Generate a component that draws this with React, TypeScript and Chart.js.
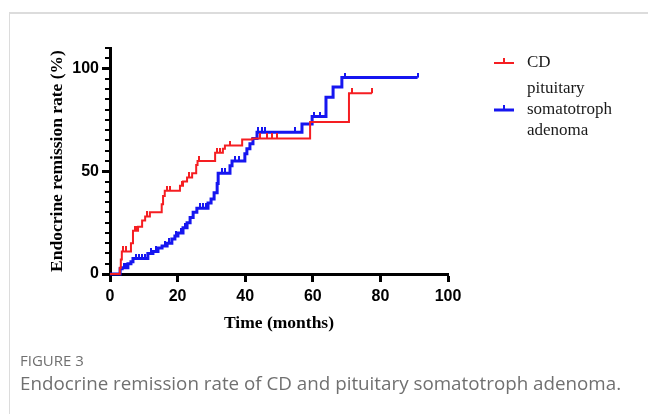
import React, { useEffect, useRef } from 'react';
import { Chart, registerables } from 'chart.js';

Chart.register(...registerables);

// ---- data ----
const xTickValues = [0, 20, 40, 60, 80, 100];
const yTickValues = [0, 50, 100];
const yMinorStep = 5;
const xMax = 100;
const yMax = 110;

const cdLabel = ['CD'];
const cdTimes = [0, 2.9, 3.2, 3.5, 6.2, 6.8, 8.3, 9.5, 10.4, 11.8, 15.3, 15.7, 16.2, 20.7, 21.6, 22.8, 24.3, 25.5, 25.9, 31.1, 33.4, 34.0, 39.1, 42.0, 59.2, 70.7, 77.5];
const cdRates = [0, 3, 7, 11, 15, 21, 23, 26, 28, 30, 34, 38, 40.5, 43, 45, 47, 49, 53, 55, 59, 61, 62.5, 65.5, 66, 74, 88, 88];
const cdCensored = [3.8, 4.8, 7.3, 8.0, 10.9, 16.9, 17.8, 21.2, 23.5, 26.4, 31.8, 32.6, 35.5, 44.5, 46.4, 47.9, 49.4, 71.5, 77.5];

const psaLabel = ['pituitary', 'somatotroph', 'adenoma'];
const psaTimes = [0, 3.0, 3.6, 5.3, 6.2, 6.8, 11.2, 12.7, 14.2, 15.4, 16.9, 18.3, 19.2, 20.1, 21.6, 22.8, 23.7, 24.6, 25.7, 29.0, 29.9, 30.8, 31.7, 32.0, 35.5, 36.1, 39.9, 40.5, 41.4, 42.3, 43.5, 56.8, 59.8, 63.9, 66.0, 68.6, 91.0];
const psaRates = [0, 2.5, 3, 5, 6, 7.5, 10, 11, 12.7, 13.6, 15, 17, 18.5, 20, 22.5, 25, 27.5, 30, 32, 34.5, 36.5, 39.5, 44, 49, 52.7, 55, 58.5, 61, 63.4, 66, 69, 73, 76.6, 86, 91, 95.6, 95.6];
const psaCensored = [4.2, 4.8, 7.7, 8.6, 9.5, 10.4, 12.0, 13.5, 16.2, 17.6, 19.6, 21.0, 22.3, 26.5, 27.4, 28.3, 33.0, 34.0, 37.0, 38.2, 43.8, 45.0, 45.9, 54.7, 60.5, 62.1, 69.5, 91.0];

const RED = 'rgb(245,30,34)';
const BLUE = 'rgb(22,22,240)';

function stepValue(times: number[], rates: number[], t: number) {
  let v = rates[0];
  for (let i = 0; i < times.length; i++) {
    if (times[i] <= t) v = rates[i];
  }
  return v;
}

function tickImage(color: string, w: number, h: number) {
  const c = document.createElement('canvas');
  c.width = w;
  c.height = h * 2;
  const g = c.getContext('2d')!;
  g.fillStyle = color;
  g.fillRect(0, 0, w, h);
  return c;
}

export default function App() {
  const ref = useRef<HTMLCanvasElement | null>(null);

  useEffect(() => {
    if (!ref.current) return;
    const redTick = tickImage(RED, 2, 5);
    const blueTick = tickImage(BLUE, 2, 5);

    const minorTicks = {
      id: 'minorTicks',
      afterDraw(chart: any) {
        const ys = chart.scales.y;
        const ctx = chart.ctx;
        ctx.save();
        ctx.strokeStyle = '#000';
        ctx.lineWidth = 2;
        for (let v = yMinorStep; v <= yMax; v += yMinorStep) {
          if (yTickValues.includes(v)) continue;
          const py = Math.round(ys.getPixelForValue(v));
          ctx.beginPath();
          ctx.moveTo(ys.right - 5, py);
          ctx.lineTo(ys.right, py);
          ctx.stroke();
        }
        ctx.restore();
      },
    };

    const legendPlugin = {
      id: 'customLegend',
      afterDraw(chart: any) {
        const ctx = chart.ctx;
        ctx.save();
        const items = [
          { color: RED, width: 2, y: 63, lines: cdLabel, textY: 63 },
          { color: BLUE, width: 3, y: 110, lines: psaLabel, textY: 89 },
        ];
        for (const it of items) {
          ctx.strokeStyle = it.color;
          ctx.lineWidth = it.width;
          ctx.beginPath();
          ctx.moveTo(494, it.y);
          ctx.lineTo(514, it.y);
          ctx.stroke();
          ctx.fillStyle = it.color;
          ctx.fillRect(503, it.y - 5, 2, 5);
          ctx.fillStyle = '#1a1a1a';
          ctx.font = '17px "Liberation Serif", "Times New Roman", serif';
          ctx.textAlign = 'left';
          ctx.textBaseline = 'middle';
          it.lines.forEach((ln, i) => ctx.fillText(ln, 527, it.textY + i * 21));
        }
        ctx.restore();
      },
    };

    const tickFont = { family: '"Liberation Sans", Arial, sans-serif', size: 16, weight: 'bold' as const };
    const titleFont = { family: '"Liberation Serif", "Times New Roman", serif', size: 17.5, weight: 'bold' as const };

    const chart = new Chart(ref.current, {
      type: 'line',
      data: {
        datasets: [
          {
            label: 'CD',
            data: cdTimes.map((t, i) => ({ x: t, y: cdRates[i] })),
            stepped: true,
            borderColor: RED,
            borderWidth: 2,
            pointRadius: 0,
            fill: false,
            order: 0,
            clip: false as any,
          },
          {
            label: 'CD censored',
            data: cdCensored.map((t) => ({ x: t, y: stepValue(cdTimes, cdRates, t) })),
            showLine: false,
            pointStyle: redTick as any,
            pointRadius: 3,
            order: 0,
            clip: false as any,
          },
          {
            label: 'pituitary somatotroph adenoma',
            data: psaTimes.map((t, i) => ({ x: t, y: psaRates[i] })),
            stepped: true,
            borderColor: BLUE,
            borderWidth: 3,
            pointRadius: 0,
            fill: false,
            order: 1,
            clip: false as any,
          },
          {
            label: 'psa censored',
            data: psaCensored.map((t) => ({ x: t, y: stepValue(psaTimes, psaRates, t) })),
            showLine: false,
            pointStyle: blueTick as any,
            pointRadius: 3,
            order: 1,
            clip: false as any,
          },
        ],
      },
      options: {
        responsive: false,
        animation: false,
        devicePixelRatio: 1,
        events: [],
        layout: { padding: { left: 0, top: 48, right: 200, bottom: 80 } },
        plugins: { legend: { display: false }, tooltip: { enabled: false }, title: { display: false } },
        scales: {
          x: {
            type: 'linear',
            min: 0,
            max: xMax,
            afterBuildTicks: (s: any) => {
              s.ticks = xTickValues.map((v) => ({ value: v }));
            },
            afterFit: (s: any) => {
              s.height = 60;
            },
            ticks: { font: tickFont, color: '#000', padding: 5, maxRotation: 0 },
            grid: { display: true, drawOnChartArea: false, drawTicks: true, tickLength: 8, tickWidth: 3, tickColor: '#000' },
            border: { display: true, color: '#000', width: 3 },
            title: { display: true, text: 'Time (months)', font: titleFont, color: '#000', padding: { top: 0, bottom: 0 } },
          },
          y: {
            type: 'linear',
            min: 0,
            max: yMax,
            afterBuildTicks: (s: any) => {
              s.ticks = yTickValues.map((v) => ({ value: v }));
            },
            afterFit: (s: any) => {
              s.width = 110;
            },
            ticks: { font: tickFont, color: '#000', padding: 3 },
            grid: { display: true, drawOnChartArea: false, drawTicks: true, tickLength: 8, tickWidth: 3, tickColor: '#000' },
            border: { display: true, color: '#000', width: 3 },
            title: { display: true, text: 'Endocrine remission rate (%)', font: titleFont, color: '#000', padding: { top: 46.5, bottom: 0 } },
          },
        },
      },
      plugins: [minorTicks, legendPlugin],
    });
    return () => chart.destroy();
  }, []);

  return (
    <div style={{ position: 'absolute', left: 0, top: 0, width: 648, height: 414, background: '#fff', overflow: 'hidden' }}>
      <div style={{ position: 'absolute', left: 9, top: 12, right: 0, height: 2, background: '#dcdcdc' }} />
      <div style={{ position: 'absolute', left: 9, top: 12, width: 1, bottom: 0, background: '#dcdcdc' }} />
      <canvas ref={ref} width={648} height={414} style={{ position: 'absolute', left: 0, top: 0 }} />
      <div style={{ position: 'absolute', left: 20, top: 350, fontFamily: '"Open Sans", sans-serif', fontSize: 15, lineHeight: '20px', color: '#707070', whiteSpace: 'nowrap' }}>
        FIGURE 3
      </div>
      <div style={{ position: 'absolute', left: 20, top: 370, fontFamily: '"Open Sans", sans-serif', fontSize: 18.8, lineHeight: '26px', color: '#707070', whiteSpace: 'nowrap' }}>
        Endocrine remission rate of CD and pituitary somatotroph adenoma.
      </div>
    </div>
  );
}
